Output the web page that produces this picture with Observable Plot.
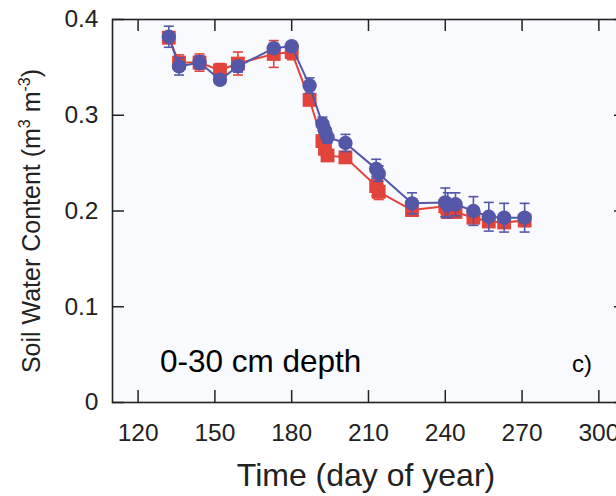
<!DOCTYPE html>
<html>
<head>
<meta charset="utf-8">
<script src="https://cdn.jsdelivr.net/npm/d3@7"></script>
<script src="https://cdn.jsdelivr.net/npm/@observablehq/plot@0.6"></script>
<style>
  html, body { margin: 0; padding: 0; background: #ffffff; overflow: hidden; }
  #chart { width: 616px; height: 496px; overflow: hidden; }
  #chart svg { max-width: none !important; }
</style>
</head>
<body>
<div id="chart"></div>
<script>
// ---- data ----
const days      = [132, 136, 144, 152, 159, 173, 180, 187, 192, 193, 194, 201, 213, 214, 227, 240, 241, 244, 251, 257, 263, 271];
const blueSWC   = [0.382, 0.351, 0.355, 0.337, 0.351, 0.370, 0.372, 0.331, 0.291, 0.284, 0.277, 0.271, 0.244, 0.239, 0.208, 0.209, 0.206, 0.207, 0.200, 0.194, 0.193, 0.193];
const blueErr   = [0.011, 0.009, 0.007, 0.004, 0.006, 0.005, 0.005, 0.008, 0.007, 0.006, 0.006, 0.009, 0.010, 0.008, 0.011, 0.015, 0.013, 0.012, 0.015, 0.015, 0.015, 0.015];
const redSWC    = [0.381, 0.355, 0.355, 0.347, 0.354, 0.364, 0.366, 0.316, 0.273, 0.265, 0.258, 0.256, 0.226, 0.220, 0.201, 0.205, 0.199, 0.199, 0.193, 0.189, 0.188, 0.190];
const redErr    = [0.006, 0.008, 0.009, 0.007, 0.012, 0.014, 0.008, 0.005, 0.006, 0.006, 0.005, 0.004, 0.010, 0.008, 0.006, 0.008, 0.006, 0.006, 0.005, 0.006, 0.006, 0.006];
const xTicks    = [120, 150, 180, 210, 240, 270, 300];
const yTicks    = [0, 0.1, 0.2, 0.3, 0.4];
const xTitle    = "Time (day of year)";
const panelText = "0-30 cm depth";
const panelTag  = "c)";

// ---- build table ----
const blueData = days.map((d, i) => ({day: d, v: blueSWC[i], e: blueErr[i]}));
const redData  = days.map((d, i) => ({day: d, v: redSWC[i], e: redErr[i]}));

// ---- layout / style ----
const W = 630, H = 496;
const mL = 112, mR = 4, mT = 19, mB = 94;
const innerW = W - mL - mR, innerH = H - mT - mB;
const BLUE = "#5457a8", RED = "#e2433a", INK = "#222222", BG = "#f8fafd";
const cap = {draw(ctx) { ctx.moveTo(-5, 0); ctx.lineTo(5, 0); }};

function series(data, color, symbol, r) {
  return [
    Plot.line(data, {x: "day", y: "v", stroke: color, strokeWidth: 2}),
    Plot.ruleX(data, {x: "day", y1: d => d.v - d.e, y2: d => d.v + d.e, stroke: color, strokeWidth: 1.6}),
    Plot.dot(data, {x: "day", y: d => d.v + d.e, symbol: cap, stroke: color, strokeWidth: 1.6, fill: "none"}),
    Plot.dot(data, {x: "day", y: d => d.v - d.e, symbol: cap, stroke: color, strokeWidth: 1.6, fill: "none"}),
    Plot.dot(data, {x: "day", y: "v", symbol, r, fill: color, stroke: "none"})
  ];
}

const svg = Plot.plot({
  width: W, height: H,
  marginLeft: mL, marginRight: mR, marginTop: mT, marginBottom: mB,
  style: {fontFamily: "'Liberation Sans', Arial, sans-serif", fontSize: "24px", color: INK, background: "#ffffff", overflow: "visible"},
  x: {domain: [110, 310.8], ticks: xTicks},
  y: {domain: [0, 0.4], ticks: yTicks},
  marks: [
    Plot.frame({fill: BG, stroke: "none"}),
    ...series(redData, RED, "square", 7.8),
    ...series(blueData, BLUE, "circle", 7.2),
    // inward ticks on all four sides
    Plot.tickX(xTicks, {x: d => d, insetTop: innerH - 12, stroke: INK, strokeWidth: 1.5}),
    Plot.tickX(xTicks, {x: d => d, insetBottom: innerH - 12, stroke: INK, strokeWidth: 1.5}),
    Plot.tickY(yTicks, {y: d => d, insetRight: innerW - 12, stroke: INK, strokeWidth: 1.5}),
    Plot.tickY(yTicks, {y: d => d, insetLeft: innerW - 12, stroke: INK, strokeWidth: 1.5}),
    Plot.axisX({ticks: xTicks, tickSize: 0, tickPadding: 21, label: null, fontSize: 24.5, tickFormat: d => String(d)}),
    Plot.axisY({ticks: yTicks, tickSize: 0, tickPadding: 14, label: null, fontSize: 24.5, tickFormat: d => d === 0 ? "0" : d3.format(".1f")(d)}),
    Plot.frame({stroke: INK, strokeWidth: 1.6})
  ]
});
svg.style.maxWidth = "none";

const s = d3.select(svg);
// y-axis title with real superscripts
const yt = s.append("text")
  .attr("transform", "translate(40,221) rotate(-90)")
  .attr("text-anchor", "middle")
  .attr("font-size", 25)
  .attr("fill", INK);
yt.append("tspan").text("Soil Water Content (m");
yt.append("tspan").attr("font-size", 16).attr("dy", -10).text("3");
yt.append("tspan").attr("dy", 10).text(" m");
yt.append("tspan").attr("font-size", 16).attr("dy", -10).text("-3");
yt.append("tspan").attr("dy", 10).text(")");

// x-axis title
s.append("text").attr("x", 366).attr("y", 486).attr("text-anchor", "middle")
  .attr("font-size", 32).attr("fill", INK).text(xTitle);

// panel annotations
s.append("text").attr("x", 160).attr("y", 372).attr("text-anchor", "start").attr("font-size", 31.5)
  .attr("fill", "#000").text(panelText);
s.append("text").attr("x", 592).attr("y", 372).attr("text-anchor", "end")
  .attr("font-size", 24).attr("fill", "#000").text(panelTag);

document.getElementById("chart").appendChild(svg);
</script>
</body>
</html>
